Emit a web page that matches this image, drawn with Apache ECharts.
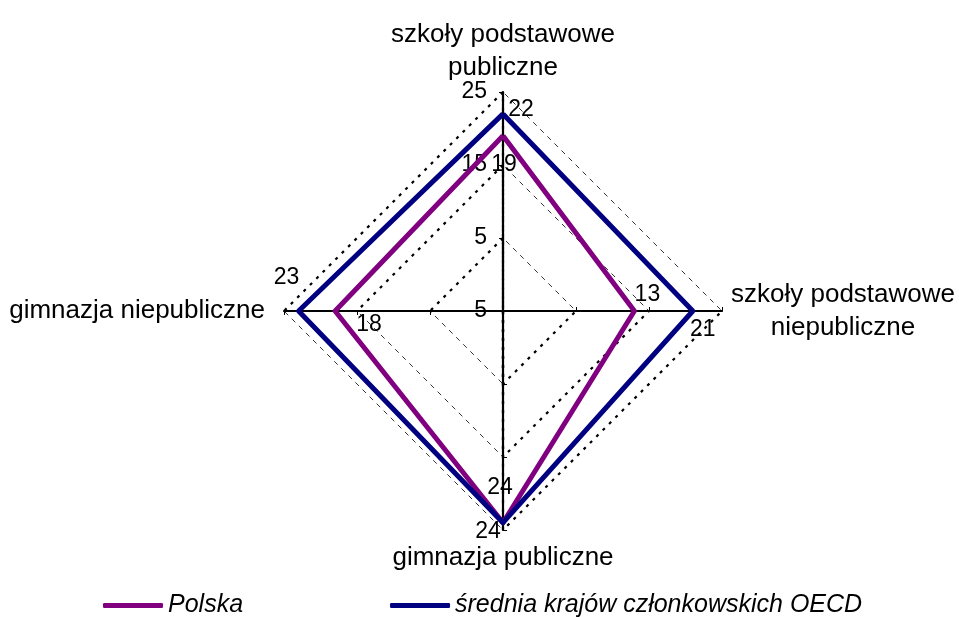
<!DOCTYPE html>
<html>
<head>
<meta charset="utf-8">
<script src="https://cdn.jsdelivr.net/npm/echarts@6/dist/echarts.min.js"></script>
<style>
  html, body { margin: 0; padding: 0; background: #fff; }
  #chart { width: 959px; height: 617px; }
</style>
</head>
<body>
<div id="chart"></div>
<script>
// indicators, counter-clockwise from the top
const indicators = ['szkoły podstawowe publiczne', 'gimnazja niepubliczne', 'gimnazja publiczne', 'szkoły podstawowe niepubliczne']
const polska = [19, 18, 24, 13]
const oecd = [22, 23, 24, 21]
const gridLevels = [5, 15, 25]
const axisMin = -5
const axisMax = 25

// label offsets per vertex (top, left, bottom, right)
const polskaLabelOffsets = [[1, 29], [34, 14], [-3, -35], [13, -16]]
const oecdLabelOffsets = [[18, -4], [-12, -33], [-15, 9], [10, 19]]

const font = 'Liberation Sans, Arial, sans-serif'
const chart = echarts.init(document.getElementById('chart'))

function nameFormatter(name, ind) {
  if (ind.name === indicators[0]) return '{t1|szkoły podstawowe}\n{t2|publiczne}'
  if (ind.name === indicators[1]) return '{l|' + name + '}'
  if (ind.name === indicators[2]) return '{b|' + name + '}'
  return '{c|szkoły podstawowe}\n{c|niepubliczne}'
}

// invisible copy of a series that only shows the label of one vertex
function labelSeries(values, dim, offset) {
  return {
    type: 'radar',
    silent: true,
    z: 5,
    symbol: 'circle',
    symbolSize: 1,
    itemStyle: { color: 'rgba(0,0,0,0)' },
    lineStyle: { opacity: 0 },
    label: {
      show: true,
      position: 'inside',
      offset: offset,
      color: '#000',
      fontFamily: font,
      fontSize: 23,
      formatter: p => (p.dimensionIndex === dim ? String(p.value) : '')
    },
    data: [{ name: 'lbl', value: values }]
  }
}

// grid segments in the quadrant between dims a and b
function gridSeries(a, b, style) {
  return {
    type: 'radar',
    silent: true,
    z: 1,
    symbol: 'none',
    lineStyle: style,
    data: gridLevels.map(v => ({
      name: 'grid',
      value: indicators.map((_, i) => (i === a || i === b ? v : '-'))
    }))
  }
}

const dotted = { color: '#000', width: 2.2, type: [3, 6] }
const dashed = { color: '#000', width: 0.8, type: [5, 5] }

const series = [
  gridSeries(0, 1, dotted),
  gridSeries(1, 2, dashed),
  gridSeries(2, 3, dotted),
  gridSeries(3, 0, dashed),
  {
    type: 'radar',
    z: 3,
    symbol: 'none',
    lineStyle: { color: '#800080', width: 5 },
    itemStyle: { color: '#800080' },
    data: [{ name: 'Polska', value: polska }]
  },
  {
    type: 'radar',
    z: 4,
    symbol: 'none',
    lineStyle: { color: '#000080', width: 5 },
    itemStyle: { color: '#000080' },
    data: [{ name: 'średnia krajów członkowskich OECD', value: oecd }]
  }
]
polska.forEach((v, i) => series.push(labelSeries(polska, i, polskaLabelOffsets[i])))
oecd.forEach((v, i) => series.push(labelSeries(oecd, i, oecdLabelOffsets[i])))

const nameText = { fontFamily: font, fontSize: 26, lineHeight: 33, color: '#000' }

chart.setOption({
  animation: false,
  backgroundColor: '#fff',
  legend: {
    data: ['Polska', 'średnia krajów członkowskich OECD'],
    left: 98,
    top: 588,
    icon: 'roundRect',
    itemWidth: 60,
    itemHeight: 5,
    itemGap: 147,
    textStyle: { color: '#000', fontFamily: font, fontSize: 25, fontStyle: 'italic' }
  },
  radar: {
    z: 2,
    center: [503, 311],
    radius: 219,
    startAngle: 90,
    splitNumber: 3,
    shape: 'polygon',
    nameGap: 9,
    axisName: {
      color: '#000',
      fontFamily: font,
      fontSize: 26,
      lineHeight: 33,
      formatter: nameFormatter,
      rich: {
        t1: Object.assign({}, nameText, { width: 224, align: 'center', lineHeight: 41 }),
        t2: Object.assign({}, nameText, { width: 224, align: 'center', lineHeight: 25 }),
        c: Object.assign({ width: 224, align: 'center' }, nameText),
        l: Object.assign({ padding: [0, 10, 0, 0] }, nameText),
        b: Object.assign({ padding: [4, 0, 0, 0] }, nameText)
      }
    },
    axisLine: { lineStyle: { color: '#000', width: 2.2 } },
    axisTick: { show: true, length: 4, lineStyle: { color: '#000' } },
    axisLabel: { show: false },
    splitLine: { show: false },
    splitArea: { show: false },
    indicator: indicators.map((n, i) => ({
      name: n,
      min: axisMin,
      max: axisMax,
      axisLabel: i === 0
        ? { show: true, color: '#000', fontFamily: font, fontSize: 23, margin: 16, showMinLabel: true, showMaxLabel: true }
        : { show: false }
    }))
  },
  series: series
})
</script>
</body>
</html>
